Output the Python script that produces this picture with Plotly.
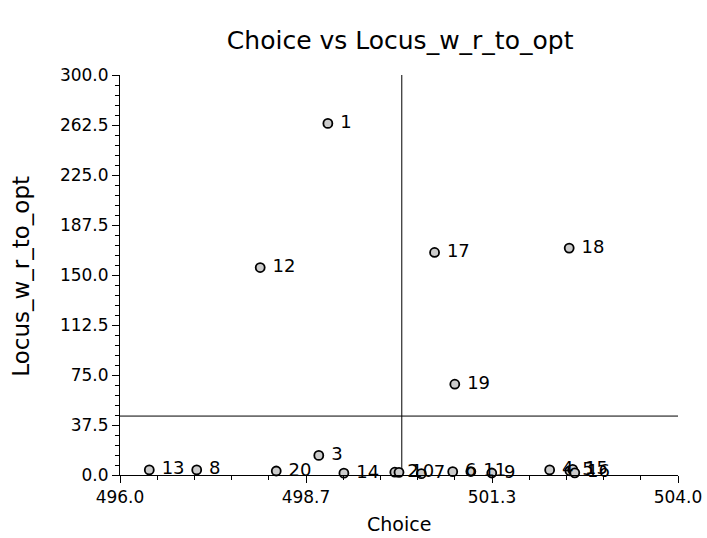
import plotly.graph_objects as go

# Data
point_ids = ["1", "2", "3", "4", "5", "6", "7", "8", "9", "10",
             "11", "12", "13", "14", "15", "16", "17", "18", "19", "20"]
choice = [498.98, 499.94, 498.85, 502.16, 502.45, 500.77, 500.32, 497.10, 501.33, 500.00,
          501.03, 498.01, 496.42, 499.21, 502.49, 502.52, 500.51, 502.44, 500.80, 498.24]
locus = [263.7, 2.1, 14.7, 3.8, 3.2, 2.5, 1.0, 3.8, 1.5, 2.0,
         2.6, 155.6, 3.8, 1.4, 4.2, 1.6, 166.9, 170.2, 68.1, 3.0]

ref_choice = 500.04
ref_locus = 44.2

x_tick_vals = [496.0, 496 + 8 / 3, 496 + 16 / 3, 504.0]
x_tick_text = ["496.0", "498.7", "501.3", "504.0"]
y_tick_vals = [0.0, 37.5, 75.0, 112.5, 150.0, 187.5, 225.0, 262.5, 300.0]

FONT = "DejaVu Sans, Liberation Sans, sans-serif"

fig = go.Figure()

# reference lines
fig.add_trace(go.Scatter(x=[ref_choice, ref_choice], y=[0, 300], mode="lines",
                         line=dict(color="black", width=1), showlegend=False,
                         hoverinfo="skip"))
fig.add_trace(go.Scatter(x=[496, 504], y=[ref_locus, ref_locus], mode="lines",
                         line=dict(color="black", width=1), showlegend=False,
                         hoverinfo="skip"))

fig.add_trace(go.Scatter(
    x=choice, y=locus, mode="markers+text",
    text=point_ids, texttemplate=" %{text}", textposition="middle right",
    textfont=dict(family=FONT, size=18, color="black"),
    marker=dict(symbol="circle", size=9, color="#cccccc",
                line=dict(color="black", width=1.8)),
    cliponaxis=False, showlegend=False,
))

fig.update_layout(
    width=707, height=538,
    paper_bgcolor="white", plot_bgcolor="white",
    margin=dict(l=120, r=29, t=75, b=63),
    font=dict(family=FONT, color="black"),
    title=dict(text="Choice vs Locus_w_r_to_opt", x=0.566, xanchor="center",
               y=0.926, yanchor="middle", font=dict(size=25, family=FONT)),
    annotations=[
        dict(text="Choice", xref="paper", yref="paper", x=0.5, y=-0.122,
             xanchor="center", yanchor="middle", showarrow=False,
             font=dict(size=19, family=FONT)),
        dict(text="Locus_w_r_to_opt", xref="paper", yref="paper", x=-0.178, y=0.4975,
             xanchor="center", yanchor="middle", showarrow=False, textangle=-90,
             font=dict(size=23, family=FONT)),
    ],
)

fig.update_xaxes(
    range=[496, 504], showgrid=False, zeroline=False, automargin=False,
    showline=True, linecolor="black", linewidth=1,
    tickmode="array", tickvals=x_tick_vals, ticktext=x_tick_text,
    ticks="outside", ticklen=7, tickwidth=1, tickcolor="black",
    tickfont=dict(size=17, family=FONT),
    minor=dict(dtick=8 / 15, tick0=496, ticks="outside", ticklen=4,
               tickwidth=1, tickcolor="black", showgrid=False),
)
fig.update_yaxes(
    range=[0, 300], showgrid=False, zeroline=False, automargin=False,
    showline=True, linecolor="black", linewidth=1,
    tickmode="array", tickvals=y_tick_vals, tickformat=".1f",
    ticks="outside", ticklen=7, tickwidth=1, tickcolor="black",
    tickfont=dict(size=17, family=FONT),
    minor=dict(dtick=7.5, tick0=0, ticks="outside", ticklen=4,
               tickwidth=1, tickcolor="black", showgrid=False),
)

# remove the browser's default page margin so the figure fills the window exactly
fig.write_html("out.html",
               config={"displayModeBar": False},
               post_script="document.body.style.margin='0';"
                           "document.body.style.overflow='hidden';")
